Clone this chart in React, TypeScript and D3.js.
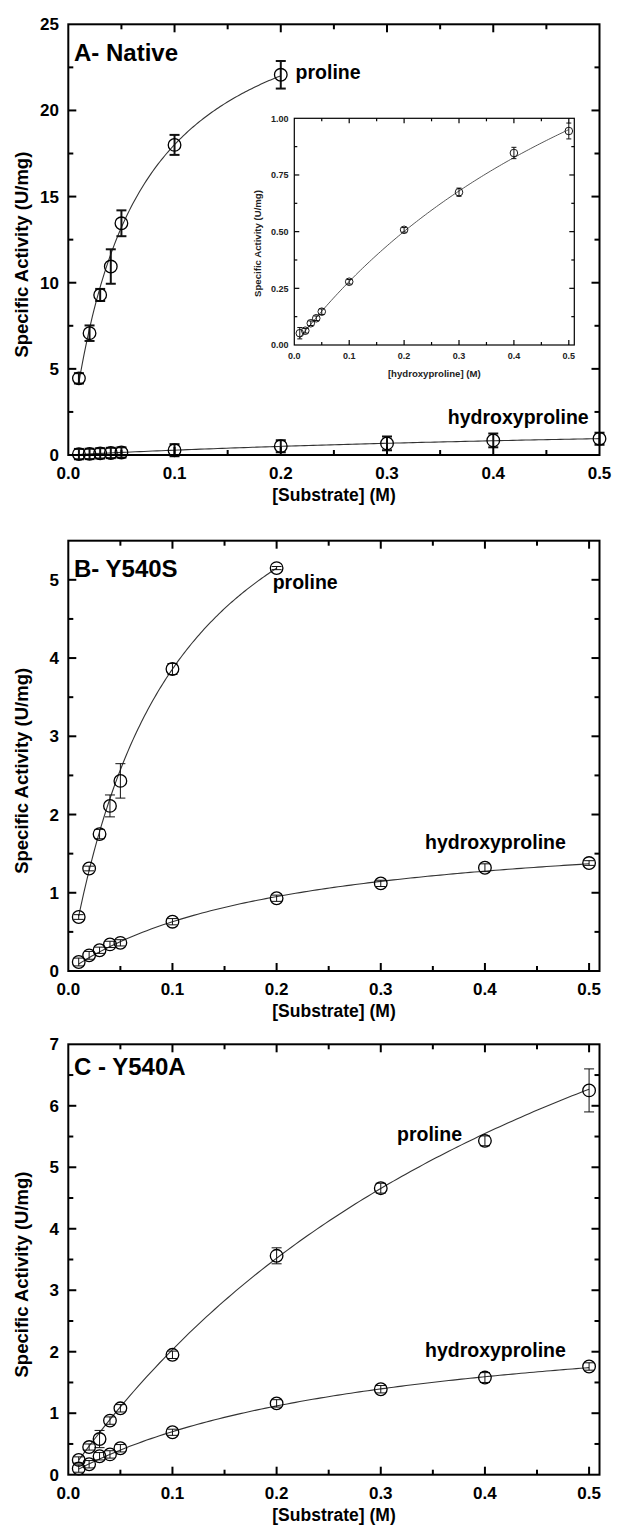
import React from 'react';
import * as d3 from 'd3';

// ---------- data ----------
const substrateFull = [0.01, 0.02, 0.03, 0.04, 0.05, 0.1, 0.2, 0.3, 0.4, 0.5];
const substrateShort = [0.01, 0.02, 0.03, 0.04, 0.05, 0.1, 0.2];

const xTickLabels = ['0.0', '0.1', '0.2', '0.3', '0.4', '0.5'];

// A - Native
const nativeProline = [4.45, 7.07, 9.29, 10.94, 13.45, 18.0, 22.07];
const nativeProlineErr = [0.3, 0.45, 0.35, 1.0, 0.75, 0.58, 0.8];
const nativeHyp = [0.052, 0.063, 0.096, 0.118, 0.147, 0.279, 0.508, 0.674, 0.847, 0.944];
const nativeHypErrMain = [0.3, 0.3, 0.3, 0.3, 0.3, 0.35, 0.35, 0.4, 0.4, 0.35];
const nativeHypErrInset = [0.025, 0.01, 0.01, 0.01, 0.012, 0.01, 0.01, 0.018, 0.025, 0.035];
const nativeYTicks = ['0', '5', '10', '15', '20', '25'];
const insetYTicks = ['0.00', '0.25', '0.50', '0.75', '1.00'];

// B - Y540S
const y540sProline = [0.69, 1.31, 1.75, 2.11, 2.43, 3.86, 5.15];
const y540sProlineErr = [0.03, 0.03, 0.06, 0.14, 0.22, 0.07, 0.02];
const y540sHyp = [0.115, 0.2, 0.265, 0.34, 0.36, 0.63, 0.93, 1.12, 1.32, 1.38];
const y540sHypErr = [0.05, 0.05, 0.04, 0.04, 0.04, 0.04, 0.04, 0.04, 0.05, 0.03];
const y540sYTicks = ['0', '1', '2', '3', '4', '5'];

// C - Y540A
const y540aProline = [0.24, 0.45, 0.58, 0.88, 1.08, 1.95, 3.56, 4.66, 5.43, 6.25];
const y540aProlineErr = [0.05, 0.05, 0.14, 0.06, 0.06, 0.06, 0.13, 0.08, 0.08, 0.35];
const y540aHyp = [0.1, 0.17, 0.3, 0.33, 0.43, 0.69, 1.16, 1.39, 1.58, 1.76];
const y540aHypErr = [0.06, 0.06, 0.06, 0.06, 0.06, 0.05, 0.06, 0.06, 0.08, 0.06];
const y540aYTicks = ['0', '1', '2', '3', '4', '5', '6', '7'];

// Michaelis-Menten fit parameters
const fitNativeProline = { vmax: 28.3, km: 0.0571 };
const fitNativeHyp = { vmax: 2.364, km: 0.744 };
const fitY540sProline = { vmax: 7.73, km: 0.1003 };
const fitY540sHyp = { vmax: 1.94, km: 0.208 };
const fitY540aProline = { vmax: 13.08, km: 0.543 };
const fitY540aHyp = { vmax: 2.77, km: 0.2955 };

// ---------- drawing ----------
const FONT = '"Liberation Sans", Arial, Helvetica, sans-serif';

type Fit = { vmax: number; km: number };
type SeriesDef = {
  xs: number[];
  ys: number[];
  err: number[];
  fit: Fit;
  label: string;
  lx: number;
  ly: number;
};

function fitPath(fit: Fit, x0: number, x1: number, x: any, y: any) {
  const pts = d3.range(x0, x1 + 1e-9, (x1 - x0) / 120).map((s) => [s, (fit.vmax * s) / (fit.km + s)] as [number, number]);
  return d3
    .line<[number, number]>()
    .x((d) => x(d[0]))
    .y((d) => y(d[1]))
    .curve(d3.curveLinear)(pts) as string;
}

function Frame({ x, y, xStep, yStep, major, minor, sw, xMajorEvery, yMajorEvery }: any) {
  const [x0, x1] = x.range();
  const [y0, y1] = y.range(); // y0 bottom, y1 top
  const xd = x.domain()[1];
  const yd = y.domain()[1];
  const xt = d3.range(0, xd + 1e-9, xStep);
  const yt = d3.range(0, yd + 1e-9, yStep);
  const lines: any[] = [];
  xt.forEach((v, i) => {
    const len = i % xMajorEvery === 0 ? major : minor;
    const px = x(v);
    if (px <= x0 + 0.5 || px >= x1 - 0.5) return;
    lines.push(<line key={'xb' + i} x1={px} x2={px} y1={y0} y2={y0 - len} />);
    lines.push(<line key={'xt' + i} x1={px} x2={px} y1={y1} y2={y1 + len} />);
  });
  yt.forEach((v, i) => {
    const len = i % yMajorEvery === 0 ? major : minor;
    const py = y(v);
    if (py >= y0 - 0.5 || py <= y1 + 0.5) return;
    lines.push(<line key={'yl' + i} x1={x0} x2={x0 + len} y1={py} y2={py} />);
    lines.push(<line key={'yr' + i} x1={x1} x2={x1 - len} y1={py} y2={py} />);
  });
  return (
    <g stroke="#000" strokeWidth={sw} fill="none">
      {lines}
      <rect x={x0} y={y1} width={x1 - x0} height={y0 - y1} />
    </g>
  );
}

function Points({ s, x, y, r, capW, errSw, circSw }: any) {
  return (
    <g>
      <g stroke="#111" strokeWidth={errSw}>
        {s.xs.map((xv: number, i: number) => {
          const px = x(xv);
          const top = y(s.ys[i] + s.err[i]);
          const bot = y(s.ys[i] - s.err[i]);
          return (
            <g key={i}>
              <line x1={px} x2={px} y1={top} y2={bot} />
              <line x1={px - capW / 2} x2={px + capW / 2} y1={top} y2={top} />
              <line x1={px - capW / 2} x2={px + capW / 2} y1={bot} y2={bot} />
            </g>
          );
        })}
      </g>
      <g stroke="#000" strokeWidth={circSw} fill="none">
        {s.xs.map((xv: number, i: number) => (
          <circle key={i} cx={x(xv)} cy={y(s.ys[i])} r={r} />
        ))}
      </g>
    </g>
  );
}

function Panel({ top, bottom, xMax, yMax, yStep, yLabels, title, titleY, series, errSw, children }: any) {
  const x = d3.scaleLinear().domain([0, xMax]).range([68.3, 599.5]);
  const y = d3.scaleLinear().domain([0, yMax]).range([bottom, top]);
  const yMajorVals = yLabels.map((l: string) => +l);
  const mid = (top + bottom) / 2;
  return (
    <g>
      {series.map((s: SeriesDef, k: number) => (
        <path key={'c' + k} d={fitPath(s.fit, s.xs[0], s.xs[s.xs.length - 1], x, y)} fill="none" stroke="#333" strokeWidth={1.1} />
      ))}
      {series.map((s: SeriesDef, k: number) => (
        <Points key={'p' + k} s={s} x={x} y={y} r={6.3} capW={10} errSw={errSw} circSw={1.3} />
      ))}
      <Frame x={x} y={y} xStep={0.05} yStep={yStep / 2} major={8} minor={5} sw={2} xMajorEvery={2} yMajorEvery={2} />
      <g fontFamily={FONT} fontWeight="bold" fill="#000">
        {xTickLabels.map((l) => (
          <text key={l} x={x(+l)} y={bottom + 24} fontSize={17} textAnchor="middle">
            {l}
          </text>
        ))}
        {yLabels.map((l: string, i: number) => (
          <text key={l} x={59} y={y(yMajorVals[i]) + 6} fontSize={17} textAnchor="end">
            {l}
          </text>
        ))}
        <text x={334} y={bottom + 46} fontSize={17.5} textAnchor="middle">
          [Substrate] (M)
        </text>
        <text transform={`translate(28,${mid + 15}) rotate(-90)`} fontSize={18.5} textAnchor="middle">
          Specific Activity (U/mg)
        </text>
        <text x={74} y={titleY} fontSize={24}>
          {title}
        </text>
        {series.map((s: SeriesDef, k: number) => (
          <text key={'l' + k} x={s.lx} y={s.ly} fontSize={19.5}>
            {s.label}
          </text>
        ))}
      </g>
      {children}
    </g>
  );
}

function Inset() {
  const x = d3.scaleLinear().domain([0, 0.51]).range([294.3, 574.3]);
  const y = d3.scaleLinear().domain([0, 1]).range([345, 118.3]);
  const s = { xs: substrateFull, ys: nativeHyp, err: nativeHypErrInset };
  return (
    <g>
      <rect x={294.3} y={118.3} width={280} height={226.7} fill="#fff" />
      <path d={fitPath(fitNativeHyp, 0.01, 0.5, x, y)} fill="none" stroke="#444" strokeWidth={0.9} />
      <Points s={s} x={x} y={y} r={3.8} capW={5} errSw={1} circSw={0.9} />
      <Frame x={x} y={y} xStep={0.05} yStep={0.125} major={5} minor={3} sw={1.2} xMajorEvery={2} yMajorEvery={2} />
      <g fontFamily={FONT} fontWeight="bold" fill="#222">
        {xTickLabels.map((l) => (
          <text key={l} x={x(+l)} y={358.5} fontSize={9} textAnchor="middle">
            {l}
          </text>
        ))}
        {insetYTicks.map((l) => (
          <text key={l} x={288.5} y={y(+l) + 3.2} fontSize={9} textAnchor="end">
            {l}
          </text>
        ))}
        <text x={434.3} y={376.5} fontSize={9.6} textAnchor="middle">
          [hydroxyproline] (M)
        </text>
        <text transform={`translate(260.5,${243.5}) rotate(-90)`} fontSize={9.6} textAnchor="middle">
          Specific Activity (U/mg)
        </text>
      </g>
    </g>
  );
}

export default function App() {
  const seriesA: SeriesDef[] = [
    { xs: substrateShort, ys: nativeProline, err: nativeProlineErr, fit: fitNativeProline, label: 'proline', lx: 295.6, ly: 79 },
    { xs: substrateFull, ys: nativeHyp, err: nativeHypErrMain, fit: fitNativeHyp, label: 'hydroxyproline', lx: 447.8, ly: 424 },
  ];
  const seriesB: SeriesDef[] = [
    { xs: substrateShort, ys: y540sProline, err: y540sProlineErr, fit: fitY540sProline, label: 'proline', lx: 272.7, ly: 589 },
    { xs: substrateFull, ys: y540sHyp, err: y540sHypErr, fit: fitY540sHyp, label: 'hydroxyproline', lx: 425, ly: 849 },
  ];
  const seriesC: SeriesDef[] = [
    { xs: substrateFull, ys: y540aProline, err: y540aProlineErr, fit: fitY540aProline, label: 'proline', lx: 397, ly: 1141 },
    { xs: substrateFull, ys: y540aHyp, err: y540aHypErr, fit: fitY540aHyp, label: 'hydroxyproline', lx: 425, ly: 1357 },
  ];
  return (
    <svg
      width={620}
      height={1537}
      viewBox="0 0 620 1537"
      style={{ position: 'absolute', left: 0, top: 0, display: 'block', background: '#fff' }}
    >
      <rect width={620} height={1537} fill="#fff" />
      <Panel top={24.3} bottom={455} xMax={0.5} yMax={25} yStep={5} yLabels={nativeYTicks} title="A- Native" titleY={60.5} series={seriesA} errSw={2}>
        <Inset />
      </Panel>
      <Panel top={540.7} bottom={971} xMax={0.51} yMax={5.5} yStep={1} yLabels={y540sYTicks} title="B- Y540S" titleY={577} series={seriesB} errSw={1} />
      <Panel top={1044.3} bottom={1474.7} xMax={0.51} yMax={7} yStep={1} yLabels={y540aYTicks} title="C - Y540A" titleY={1075} series={seriesC} errSw={1} />
    </svg>
  );
}
